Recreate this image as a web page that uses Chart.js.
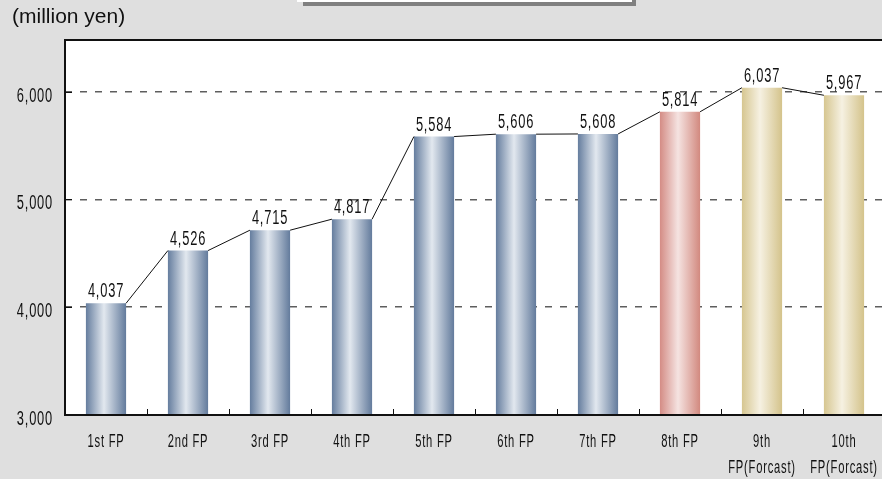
<!DOCTYPE html>
<html>
<head>
<meta charset="utf-8">
<script src="https://cdn.jsdelivr.net/npm/chart.js@4"></script>
<style>
  html, body { margin: 0; padding: 0; background: #dfdfdf; overflow: hidden; }
  #wrap { position: relative; width: 888px; height: 479px; }
</style>
</head>
<body>
<div id="wrap"><canvas id="chart"></canvas></div>
<script>
// Fiscal periods and operating revenue (million yen)
const periods = ['1st FP', '2nd FP', '3rd FP', '4th FP', '5th FP', '6th FP', '7th FP', '8th FP',
                 ['9th', 'FP(Forcast)'], ['10th', 'FP(Forcast)']];
const revenues = [4037, 4526, 4715, 4817, 5584, 5606, 5608, 5814, 6037, 5967];
const periodKinds = ['actual', 'actual', 'actual', 'actual', 'actual', 'actual', 'actual',
                     'latest', 'forecast', 'forecast'];
const yTickValues = [3000, 4000, 5000, 6000];
const unitLabel = '(million yen)';

const palettes = {
  actual:   ['#657d9e', '#e2e8ef', '#637b9c'],
  latest:   ['#d48c85', '#f5e3e1', '#d2897f'],
  forecast: ['#d6c690', '#f6f1e2', '#d4c38b']
};
const FONT = '"Liberation Sans", Arial, sans-serif';
const BAR_PCT = 0.49;

function barFill(ctx) {
  const chart = ctx.chart;
  const xs = chart.scales.x;
  const p = palettes[periodKinds[ctx.dataIndex]] || palettes.actual;
  if (!xs || ctx.type !== 'data') return p[0];
  const cx = xs.getPixelForValue(ctx.dataIndex);
  const half = xs.width / periods.length * BAR_PCT / 2;
  if (!isFinite(cx) || !isFinite(half) || half <= 0) return p[0];
  const g = chart.ctx.createLinearGradient(cx - half, 0, cx + half, 0);
  g.addColorStop(0, p[0]);
  g.addColorStop(0.45, p[1]);
  g.addColorStop(1, p[2]);
  return g;
}

// narrow lettering: text squeezed horizontally with a little tracking
function narrowText(ctx, text, x, y, size, squeeze, align) {
  ctx.save();
  ctx.font = size + 'px ' + FONT;
  ctx.textAlign = align;
  ctx.textBaseline = 'alphabetic';
  if ('letterSpacing' in ctx) ctx.letterSpacing = '1.2px';
  ctx.translate(x, y);
  ctx.scale(squeeze, 1);
  ctx.fillText(text, 0, 0);
  ctx.restore();
}

const backdrop = {
  id: 'backdrop',
  beforeDraw(chart) {
    const { ctx, chartArea: a } = chart;
    ctx.save();
    ctx.fillStyle = '#ffffff';
    ctx.fillRect(a.left, a.top, a.right - a.left, a.bottom - a.top);
    // small framed panel at the top edge
    ctx.fillStyle = '#808080';
    ctx.fillRect(303, 0, 333, 6);
    ctx.fillStyle = '#ffffff';
    ctx.fillRect(297, 0, 335, 2);
    // unit caption
    ctx.fillStyle = '#111';
    ctx.font = '21px ' + FONT;
    ctx.textAlign = 'left';
    ctx.textBaseline = 'middle';
    ctx.fillText(unitLabel, 12, 17);
    ctx.restore();
  }
};

const overlay = {
  id: 'overlay',
  afterDatasetsDraw(chart) {
    const { ctx, chartArea: a, scales: { x, y } } = chart;
    const bars = chart.getDatasetMeta(0).data;
    ctx.save();
    // series line joining neighbouring bar tops
    ctx.strokeStyle = '#111';
    ctx.lineWidth = 1;
    ctx.beginPath();
    for (let i = 0; i < bars.length - 1; i++) {
      const b0 = bars[i], b1 = bars[i + 1];
      ctx.moveTo(b0.x + b0.width / 2, b0.y);
      ctx.lineTo(b1.x - b1.width / 2, b1.y);
    }
    ctx.stroke();

    // frame: top, left and bottom edges
    ctx.lineWidth = 2;
    ctx.beginPath();
    ctx.moveTo(a.right, a.top);
    ctx.lineTo(a.left, a.top);
    ctx.lineTo(a.left, a.bottom);
    ctx.lineTo(a.right, a.bottom);
    ctx.stroke();

    // inward tick marks
    ctx.lineWidth = 1;
    ctx.beginPath();
    yTickValues.slice(1).forEach(v => {
      const py = Math.round(y.getPixelForValue(v)) + 0.5;
      ctx.moveTo(a.left, py);
      ctx.lineTo(a.left + 7, py);
    });
    const step = x.width / periods.length;
    for (let i = 1; i < periods.length; i++) {
      const px = Math.round(a.left + step * i) + 0.5;
      ctx.moveTo(px, a.bottom);
      ctx.lineTo(px, a.bottom - 6);
    }
    ctx.stroke();

    ctx.fillStyle = '#111';
    // value labels above the bars
    bars.forEach((b, i) => {
      narrowText(ctx, revenues[i].toLocaleString('en-US'), b.x, b.y - 6, 19.5, 0.66, 'center');
    });
    // value axis labels
    yTickValues.forEach(v => {
      narrowText(ctx, v.toLocaleString('en-US'), a.left - 12, y.getPixelForValue(v) + 10, 19.5, 0.66, 'right');
    });
    // period labels
    periods.forEach((lab, i) => {
      const lines = Array.isArray(lab) ? lab : [lab];
      const px = x.getPixelForValue(i);
      lines.forEach((ln, k) => {
        narrowText(ctx, ln, px, a.bottom + 32 + k * 25.5, 17.5, 0.64, 'center');
      });
    });
    ctx.restore();
  }
};

new Chart(document.getElementById('chart'), {
  type: 'bar',
  data: {
    labels: periods,
    datasets: [{
      data: revenues,
      backgroundColor: barFill,
      borderWidth: 0,
      barPercentage: BAR_PCT,
      categoryPercentage: 1
    }]
  },
  options: {
    responsive: true,
    maintainAspectRatio: false,
    animation: false,
    events: [],
    layout: { padding: { left: 0, top: 40, right: 3, bottom: 0 } },
    plugins: { legend: { display: false }, tooltip: { enabled: false } },
    scales: {
      x: {
        grid: { display: false },
        border: { display: false },
        ticks: { display: false },
        afterFit(scale) { scale.height = 64; scale.paddingLeft = 0; scale.paddingRight = 0; }
      },
      y: {
        min: 3000,
        max: 6480,
        afterBuildTicks(scale) { scale.ticks = yTickValues.map(v => ({ value: v })); },
        afterFit(scale) { scale.width = 65; scale.paddingTop = 0; scale.paddingBottom = 0; },
        grid: {
          drawTicks: false,
          lineWidth: 1.5,
          color: c => (c.tick && c.tick.value === 3000) ? 'rgba(0,0,0,0)' : '#5e5e5e'
        },
        border: { display: false, dash: [7, 8] },
        ticks: { display: false }
      }
    }
  },
  plugins: [backdrop, overlay]
});
</script>
</body>
</html>
